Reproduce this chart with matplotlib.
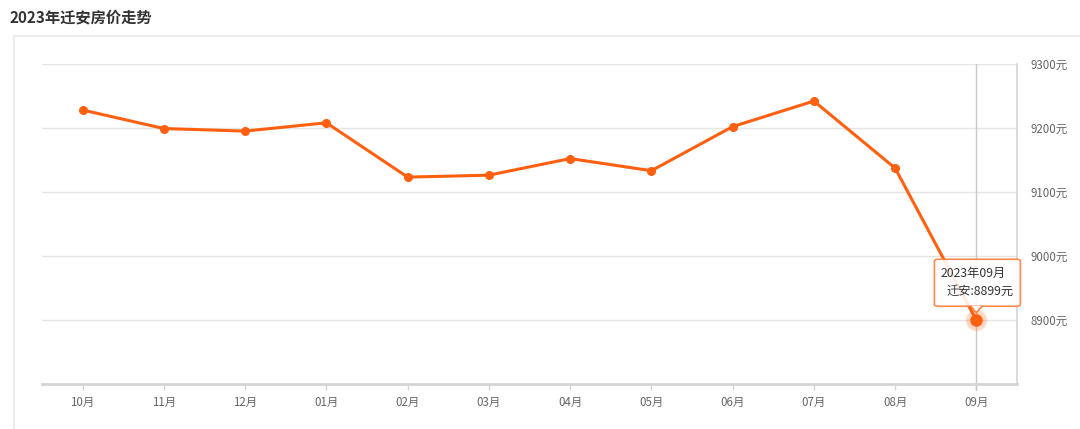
import matplotlib
matplotlib.use("Agg")
import matplotlib.pyplot as plt
from matplotlib.patches import FancyBboxPatch, Polygon, Rectangle

plt.rcParams['font.family'] = ['Noto Sans CJK SC', 'DejaVu Sans']

title = "2023年迁安房价走势"
months = ["10月", "11月", "12月", "01月", "02月", "03月", "04月", "05月", "06月", "07月", "08月", "09月"]
prices = [9228, 9199, 9195, 9208, 9123, 9126, 9152, 9133, 9202, 9242, 9137, 8899]
yticks = [8900, 9000, 9100, 9200, 9300]
city = "迁安"
tip_label = "2023年09月"

W, H = 1080, 429
fig = plt.figure(figsize=(W / 100, H / 100), dpi=100)
fig.patch.set_facecolor("white")

# panel border
fig.patches.append(Rectangle((14 / W, -0.1), 1.2, (H - 36.5) / H + 0.1, transform=fig.transFigure,
                             facecolor="none", edgecolor="#ebebeb", linewidth=1.5))
fig.text(10 / W, 1 - 17 / H, title, fontsize=11, fontweight="bold", color="#333333",
         va="center", ha="left")

left, right, top, bottom = 42, 1017, 64, 383.5
ax = fig.add_axes([left / W, 1 - bottom / H, (right - left) / W, (bottom - top) / H])
x = list(range(len(months)))
ax.set_xlim(-0.5, len(months) - 0.5)
ax.set_ylim(8800, 9300)

for s in ["top", "left"]:
    ax.spines[s].set_visible(False)
ax.spines["right"].set_color("#d4d4d4")
ax.spines["right"].set_linewidth(1.2)
ax.spines["bottom"].set_color("#d4d4d4")
ax.spines["bottom"].set_linewidth(2)

ax.set_yticks(yticks)
ax.set_yticklabels([f"{v}元" for v in yticks])
ax.yaxis.tick_right()
ax.tick_params(axis="y", length=0, pad=10, labelsize=8.3, labelcolor="#666666")
ax.set_xticks(x)
ax.set_xticklabels(months)
ax.tick_params(axis="x", length=4, width=1, color="#d4d4d4", pad=5, labelsize=8.3, labelcolor="#666666")
for lab in ax.get_yticklabels():
    lab.set_horizontalalignment("left")
ax.grid(axis="y", color="#e4e4e4", linewidth=1)
ax.set_axisbelow(True)

last = len(months) - 1
ax.axvline(last, ymin=-0.02, ymax=1, color="#c8c8c8", linewidth=1, clip_on=False, zorder=1)

color = "#ff6010"
ax.plot(x, prices, color=color, linewidth=2.2, marker="o", markersize=5.5, zorder=3,
        solid_joinstyle="round")
ax.plot([last], [prices[last]], marker="o", markersize=15, color=color, alpha=0.25,
        markeredgewidth=0, zorder=4)
ax.plot([last], [prices[last]], marker="o", markersize=9, color=color, zorder=5,
        markeredgewidth=0)

# tooltip (pixel offsets from highlighted point)
inv = fig.transFigure.inverted()
px, py = ax.transData.transform((last, prices[last]))
def fpt(dx, dy):
    return inv.transform((px + dx, py + dy))

bx0, by0 = fpt(-42, 14)
bx1, by1 = fpt(44, 61)
box = FancyBboxPatch((bx0, by0), bx1 - bx0, by1 - by0, boxstyle="round,pad=0,rounding_size=0.004",
                     transform=fig.transFigure, facecolor="white", edgecolor="#ff7a33",
                     linewidth=1.2, alpha=0.88, zorder=6)
fig.patches.append(box)
pts = [fpt(-6, 14.5), fpt(0, 7.5), fpt(6, 14.5)]
fig.patches.append(Polygon(pts, closed=False, transform=fig.transFigure, facecolor="white",
                           edgecolor="#ff7a33", linewidth=1.2, alpha=0.95, zorder=7))
tx, ty = fpt(-36, 47)
fig.text(tx, ty, tip_label, fontsize=8.8, color="#333333", ha="left", va="center", zorder=8)
tx, ty = fpt(37, 29)
fig.text(tx, ty, f"{city}:{prices[last]}元", fontsize=8.8, color="#333333", ha="right",
         va="center", zorder=8)

fig.savefig("out.png", dpi=100, facecolor="white")
